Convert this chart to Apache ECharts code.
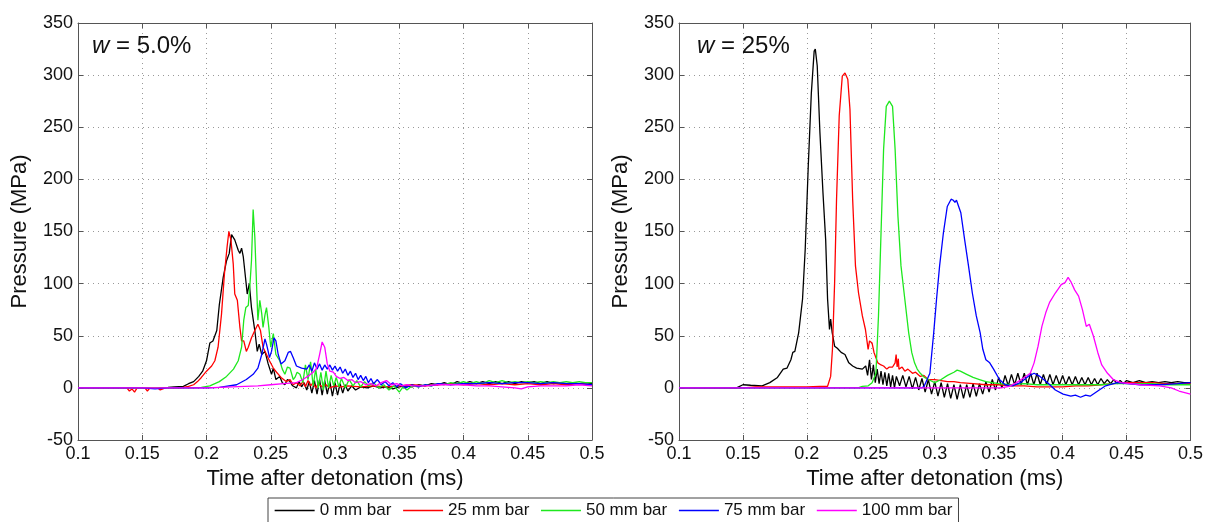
<!DOCTYPE html>
<html>
<head>
<meta charset="utf-8">
<script src="https://cdn.jsdelivr.net/npm/echarts@6/dist/echarts.min.js"></script>
<style>
html,body{margin:0;padding:0;background:#fff;}
#chart{width:1206px;height:522px;}
</style>
</head>
<body>
<div id="chart"></div>
<script>
// ---------- data ----------
const seriesNames = ['0 mm bar', '25 mm bar', '50 mm bar', '75 mm bar', '100 mm bar'];
const panelLabels = ['5.0%', '25%'];
const xTicks = {min: 0.1, max: 0.5, interval: 0.05};
const yTicks = {min: -50, max: 350, interval: 50};

// w = 5.0 %  [time (ms), pressure (MPa)]
const w5_bar0 = [[0.1,0],[0.15,0],[0.17,0.5],[0.175,1],[0.182,1.5],[0.186,4],[0.19,6],[0.194,11],[0.197,16],[0.2,26],[0.2026,43],[0.205,45],[0.206,44],[0.208,55],[0.21,80],[0.213,106],[0.2156,122],[0.2177,129],[0.2195,147],[0.222,142],[0.2247,132],[0.226,129],[0.2273,134],[0.2286,126],[0.2306,103],[0.2317,90],[0.2333,100],[0.235,77],[0.2376,55],[0.2395,35],[0.241,42],[0.243,32],[0.2455,35],[0.248,23],[0.2506,13],[0.252,19],[0.254,8],[0.257,11],[0.259,5],[0.261,3],[0.263,8],[0.265,6],[0.267,2],[0.27,0],[0.272,6],[0.274,1],[0.276,5],[0.278,-2],[0.28,6],[0.282,-5],[0.284,7],[0.286,-6],[0.288,8],[0.29,-7],[0.292,7],[0.294,-6],[0.296,6],[0.298,-8],[0.3,5],[0.302,-7],[0.304,4],[0.306,-5],[0.308,3],[0.31,-3],[0.313,2],[0.316,-2],[0.32,1],[0.325,0],[0.33,2],[0.335,0],[0.34,1],[0.345,-1],[0.35,1],[0.355,2],[0.36,1],[0.365,3],[0.37,2],[0.375,4],[0.38,3],[0.385,5],[0.39,3],[0.395,6],[0.4,4],[0.405,6],[0.41,4],[0.415,6],[0.42,4],[0.425,6],[0.43,4],[0.435,6],[0.44,4],[0.445,6],[0.45,5],[0.455,6],[0.46,4],[0.465,6],[0.47,4],[0.475,5],[0.48,4],[0.485,5],[0.49,4],[0.495,5],[0.5,4]];
const w5_bar25 = [[0.1,0],[0.138,0],[0.14,-3],[0.142,-1],[0.144,-4],[0.146,0],[0.152,0],[0.154,-3],[0.156,0],[0.162,0],[0.164,-2],[0.166,-1],[0.168,0],[0.18,0],[0.182,0.5],[0.186,1.5],[0.19,3],[0.193,6],[0.196,10],[0.2,16],[0.204,21],[0.2065,26],[0.209,39],[0.2117,71],[0.214,110],[0.216,135],[0.2174,150],[0.219,142],[0.2208,119],[0.222,90],[0.224,84],[0.226,58],[0.2273,45],[0.229,45],[0.231,35],[0.2325,39],[0.235,48],[0.2376,55],[0.24,61],[0.242,55],[0.244,39],[0.2467,32],[0.249,26],[0.252,19],[0.2545,15],[0.258,10],[0.262,6],[0.265,8],[0.2675,3],[0.27,5],[0.2727,2],[0.275,6],[0.277,1],[0.279,7],[0.281,2],[0.283,5],[0.285,0],[0.287,4],[0.29,1],[0.293,3],[0.296,0],[0.3,2],[0.305,1],[0.31,2],[0.32,1],[0.33,2],[0.34,1],[0.35,2],[0.36,3],[0.37,2],[0.38,3],[0.39,4],[0.4,3],[0.41,4],[0.42,3],[0.43,4],[0.44,3],[0.45,4],[0.46,3],[0.47,4],[0.48,3],[0.49,4],[0.5,3]];
const w5_bar50 = [[0.1,0],[0.19,0],[0.196,0.5],[0.2026,2],[0.21,6],[0.2156,11],[0.221,18],[0.2247,26],[0.2273,39],[0.229,65],[0.2306,77],[0.2325,79],[0.2337,97],[0.235,122],[0.2363,171],[0.2376,145],[0.239,97],[0.24,65],[0.2415,84],[0.243,71],[0.244,58],[0.2455,70],[0.2467,77],[0.2485,58],[0.25,39],[0.252,52],[0.254,32],[0.257,26],[0.259,18],[0.261,13],[0.263,20],[0.265,19],[0.2675,8],[0.2688,10],[0.2705,15],[0.2727,13],[0.275,5],[0.277,22],[0.279,8],[0.281,25],[0.283,2],[0.285,18],[0.287,0],[0.289,15],[0.291,-2],[0.293,16],[0.295,0],[0.297,12],[0.299,2],[0.301,10],[0.303,1],[0.305,9],[0.308,0],[0.311,8],[0.314,2],[0.317,7],[0.32,1],[0.323,6],[0.326,2],[0.33,5],[0.334,0],[0.338,3],[0.342,-2],[0.346,2],[0.35,-4],[0.353,1],[0.356,-2],[0.36,2],[0.365,1],[0.37,3],[0.375,2],[0.38,4],[0.385,3],[0.39,5],[0.395,4],[0.4,6],[0.405,4],[0.41,6],[0.415,4],[0.42,7],[0.425,5],[0.43,7],[0.435,5],[0.44,6],[0.445,5],[0.45,6],[0.455,5],[0.46,6],[0.465,5],[0.47,6],[0.475,5],[0.48,6],[0.485,5],[0.49,6],[0.495,5],[0.5,5]];
const w5_bar75 = [[0.1,0],[0.15,0],[0.16,-1],[0.17,0],[0.2,0],[0.21,0.5],[0.2234,3],[0.231,8],[0.2363,13],[0.24,19],[0.243,32],[0.2455,47],[0.2467,42],[0.248,35],[0.249,29],[0.2506,35],[0.2525,48],[0.254,45],[0.2558,32],[0.258,23],[0.261,26],[0.2636,34],[0.2654,35],[0.2675,29],[0.27,21],[0.274,19],[0.278,18],[0.28,22],[0.282,16],[0.284,24],[0.286,18],[0.288,23],[0.29,17],[0.292,22],[0.294,18],[0.296,22],[0.298,17],[0.3,21],[0.302,16],[0.304,20],[0.306,14],[0.308,18],[0.31,12],[0.312,16],[0.314,10],[0.316,14],[0.318,8],[0.32,12],[0.322,7],[0.324,11],[0.326,5],[0.328,9],[0.33,4],[0.333,8],[0.336,3],[0.339,6],[0.342,2],[0.345,5],[0.348,1],[0.351,4],[0.355,0],[0.36,3],[0.365,1],[0.37,3],[0.375,2],[0.38,4],[0.39,3],[0.4,4],[0.41,4],[0.42,5],[0.43,4],[0.44,5],[0.45,5],[0.46,4],[0.47,5],[0.48,4],[0.49,4],[0.5,3]];
const w5_bar100 = [[0.1,0],[0.2,0],[0.21,0.5],[0.22,1],[0.23,1.5],[0.24,2],[0.25,3],[0.26,4],[0.27,5],[0.275,8],[0.28,12],[0.283,15],[0.2857,19],[0.288,32],[0.29,44],[0.292,39],[0.294,23],[0.296,16],[0.2987,15],[0.301,11],[0.304,9],[0.307,10],[0.31,7],[0.313,8],[0.316,5],[0.32,6],[0.324,3],[0.328,4],[0.332,2],[0.336,5],[0.34,7],[0.344,3],[0.348,4],[0.352,2],[0.356,3],[0.36,2],[0.37,2],[0.38,3],[0.39,3],[0.4,3],[0.41,2],[0.42,2],[0.43,1],[0.44,0],[0.445,-1],[0.45,1],[0.46,2],[0.47,2],[0.48,2],[0.49,3],[0.5,2]];

// w = 25 %
const w25_bar0 = [[0.1,0],[0.145,0],[0.15,3],[0.156,2.5],[0.165,2],[0.171,5],[0.177,10],[0.1815,18],[0.1845,19],[0.1875,27],[0.189,34],[0.1906,35],[0.1936,53],[0.1966,85],[0.1987,133],[0.2011,213],[0.2035,283],[0.2057,323],[0.2066,325],[0.2081,309],[0.2102,245],[0.2126,187],[0.2147,142],[0.2162,85],[0.2177,56],[0.2186,66],[0.2198,53],[0.2217,40],[0.2238,38],[0.2268,34],[0.2298,32],[0.2328,24],[0.2358,21],[0.2389,19],[0.2434,18],[0.246,21],[0.2475,12],[0.249,27],[0.2505,8],[0.252,22],[0.2535,5],[0.255,18],[0.2565,4],[0.258,16],[0.2595,3],[0.261,15],[0.2625,2],[0.264,14],[0.2655,1],[0.267,12],[0.2685,0],[0.27,11],[0.2725,2],[0.275,12],[0.2775,1],[0.28,11],[0.2825,-1],[0.285,10],[0.2875,-2],[0.29,9],[0.2925,-4],[0.295,8],[0.2975,-6],[0.3,6],[0.3025,-8],[0.305,5],[0.3075,-9],[0.31,4],[0.3125,-10],[0.315,3],[0.3175,-11],[0.32,3],[0.3225,-10],[0.325,3],[0.3275,-9],[0.33,4],[0.3325,-8],[0.335,4],[0.3375,-6],[0.34,6],[0.3425,-4],[0.345,8],[0.3475,-2],[0.35,10],[0.3525,0],[0.355,12],[0.3575,2],[0.36,13],[0.3625,3],[0.365,14],[0.3675,3],[0.37,14],[0.3725,3],[0.375,14],[0.3775,3],[0.38,14],[0.3825,3],[0.385,13],[0.3875,3],[0.39,13],[0.3925,3],[0.395,12],[0.3975,3],[0.4,12],[0.4025,3],[0.405,11],[0.4075,3],[0.41,11],[0.4125,3],[0.415,10],[0.4175,3],[0.42,10],[0.4225,3],[0.425,9],[0.4275,3],[0.43,9],[0.4325,4],[0.435,8],[0.4375,4],[0.44,8],[0.4425,4],[0.445,7],[0.4475,4],[0.45,7],[0.455,5],[0.46,7],[0.465,5],[0.47,6],[0.475,5],[0.48,6],[0.485,5],[0.49,6],[0.495,5],[0.5,5]];
const w25_bar25 = [[0.1,0],[0.15,0],[0.16,1],[0.2,1],[0.21,1.5],[0.2162,1.5],[0.2186,11],[0.22,37],[0.2217,101],[0.2232,181],[0.2253,261],[0.2277,299],[0.2298,302],[0.232,296],[0.2337,267],[0.2358,181],[0.238,117],[0.2404,91],[0.2434,69],[0.2458,56],[0.2479,37],[0.249,45],[0.251,43],[0.2525,34],[0.2555,24],[0.258,22],[0.26,21],[0.2625,18],[0.2645,20],[0.267,20],[0.269,24],[0.2698,32],[0.2706,20],[0.2715,28],[0.272,18],[0.2745,20],[0.2766,16],[0.279,18],[0.2826,14],[0.285,15],[0.2887,11],[0.2915,12],[0.2947,8],[0.3,8],[0.305,7],[0.31,6],[0.315,6],[0.32,5],[0.33,4],[0.34,3],[0.35,3],[0.36,2],[0.37,2],[0.38,1],[0.39,1],[0.4,1],[0.41,2],[0.42,2],[0.43,3],[0.44,4],[0.45,5],[0.46,5],[0.47,5],[0.48,4],[0.49,4],[0.5,4]];
const w25_bar50 = [[0.1,0],[0.24,0],[0.2434,1.5],[0.248,2],[0.251,5],[0.254,14],[0.256,69],[0.258,149],[0.26,229],[0.2621,270],[0.2645,275],[0.267,270],[0.269,229],[0.2712,165],[0.2736,117],[0.2766,85],[0.2796,53],[0.282,34],[0.2842,24],[0.2863,18],[0.2887,14],[0.292,10],[0.295,8],[0.3,5],[0.305,8],[0.31,12],[0.315,15],[0.3175,17],[0.32,16],[0.325,13],[0.33,10],[0.335,8],[0.34,6],[0.345,5],[0.35,4],[0.36,3],[0.37,4],[0.38,3],[0.39,3],[0.4,3],[0.41,3],[0.42,3],[0.43,3],[0.44,4],[0.45,4],[0.46,4],[0.47,4],[0.48,3],[0.49,3],[0.5,3]];
const w25_bar75 = [[0.1,0],[0.29,0],[0.2917,1.5],[0.2962,14],[0.2992,53],[0.3014,85],[0.3038,117],[0.3068,149],[0.3098,174],[0.3128,181],[0.3145,180],[0.3158,178],[0.317,180],[0.3183,179],[0.3204,168],[0.3234,142],[0.3264,117],[0.3294,91],[0.3325,69],[0.3355,53],[0.3376,37],[0.34,27],[0.343,24],[0.346,18],[0.3506,8],[0.355,3],[0.361,2],[0.367,5],[0.373,11],[0.3777,14],[0.3823,11],[0.3883,5],[0.3943,-2],[0.4004,-6],[0.4064,-8],[0.41,-7],[0.414,-9],[0.418,-7],[0.4215,-8],[0.4275,-3],[0.4336,2],[0.4426,5],[0.4608,3],[0.476,3],[0.49,4],[0.5,5]];
const w25_bar100 = [[0.1,0],[0.352,0],[0.358,1.5],[0.364,5],[0.37,10],[0.3747,14],[0.3777,24],[0.3808,40],[0.3838,59],[0.3868,72],[0.3898,82],[0.3943,91],[0.3989,99],[0.4019,101],[0.4043,106],[0.4064,102],[0.4094,94],[0.4125,88],[0.4155,75],[0.4185,59],[0.4209,61],[0.424,50],[0.4275,34],[0.4306,22],[0.4351,14],[0.4396,8],[0.4457,5],[0.4608,3],[0.476,2],[0.4849,0],[0.491,-3],[0.5,-6]];

// ---------- chart ----------
const colors = ['#000000', '#ff0000', '#1ee81e', '#0000ff', '#ff00ff'];
const panels = [
  [w5_bar0, w5_bar25, w5_bar50, w5_bar75, w5_bar100],
  [w25_bar0, w25_bar25, w25_bar50, w25_bar75, w25_bar100]
];
const FONT = 'Liberation Sans, Arial, Helvetica, sans-serif';
const frame = '#555';

const grids = [
  {left: 78, top: 23, width: 514, height: 417},
  {left: 679, top: 23, width: 512, height: 417}
];

const xAxes = [], yAxes = [], series = [], titles = [];
grids.forEach((g, i) => {
  xAxes.push({
    type: 'value', gridIndex: i, min: xTicks.min, max: xTicks.max, interval: xTicks.interval,
    name: 'Time after detonation (ms)', nameLocation: 'middle', nameGap: 27,
    nameTextStyle: {fontFamily: FONT, fontSize: 22, color: '#111'},
    axisLine: {show: true, onZero: false, lineStyle: {color: frame, width: 1}},
    axisTick: {show: true, inside: true, length: 5, lineStyle: {color: frame}},
    axisLabel: {fontFamily: FONT, fontSize: 18, color: '#111', margin: 5},
    splitLine: {show: true, lineStyle: {color: '#999', type: [1, 4], width: 1}}
  });
  yAxes.push({
    type: 'value', gridIndex: i, min: yTicks.min, max: yTicks.max, interval: yTicks.interval,
    name: 'Pressure (MPa)', nameLocation: 'middle', nameGap: 47, nameRotate: 90,
    nameTextStyle: {fontFamily: FONT, fontSize: 22, color: '#111'},
    axisLine: {show: true, onZero: false, lineStyle: {color: frame, width: 1}},
    axisTick: {show: true, inside: true, length: 5, lineStyle: {color: frame}},
    axisLabel: {fontFamily: FONT, fontSize: 18, color: '#111', margin: 5},
    splitLine: {show: true, lineStyle: {color: '#999', type: [1, 4], width: 1}}
  });
  titles.push({
    text: '{i|w} = ' + panelLabels[i],
    left: i === 0 ? 92 : 697, top: 34, padding: 0,
    textStyle: {fontFamily: FONT, fontSize: 24, fontWeight: 'normal', color: '#111',
      rich: {i: {fontFamily: FONT, fontSize: 24, fontStyle: 'italic', color: '#111'}}}
  });
});
grids.forEach((g, i) => {
  xAxes.push({
    type: 'value', gridIndex: i, position: 'top', min: xTicks.min, max: xTicks.max, interval: xTicks.interval,
    axisLine: {show: true, onZero: false, lineStyle: {color: frame, width: 1}},
    axisTick: {show: true, inside: true, length: 5, lineStyle: {color: frame}},
    axisLabel: {show: false}, splitLine: {show: false}
  });
  yAxes.push({
    type: 'value', gridIndex: i, position: 'right', min: yTicks.min, max: yTicks.max, interval: yTicks.interval,
    axisLine: {show: true, onZero: false, lineStyle: {color: frame, width: 1}},
    axisTick: {show: true, inside: true, length: 5, lineStyle: {color: frame}},
    axisLabel: {show: false}, splitLine: {show: false}
  });
});

panels.forEach((list, i) => {
  list.forEach((data, k) => {
    series.push({
      type: 'line', name: seriesNames[k], xAxisIndex: i, yAxisIndex: i,
      data: data, showSymbol: false, symbol: 'none',
      lineStyle: {color: colors[k], width: 1.3}, itemStyle: {color: colors[k]},
      emphasis: {disabled: true}
    });
  });
});

const chart = echarts.init(document.getElementById('chart'), null, {renderer: 'canvas'});
chart.setOption({
  animation: false,
  backgroundColor: '#fff',
  title: titles,
  grid: grids,
  xAxis: xAxes,
  yAxis: yAxes,
  legend: {
    data: seriesNames,
    left: 268, top: 498,
    orient: 'horizontal',
    itemWidth: 40, itemHeight: 14, itemGap: 11,
    itemStyle: {opacity: 0},
    lineStyle: {width: 1.3},
    textStyle: {fontFamily: FONT, fontSize: 17, color: '#111'},
    backgroundColor: '#fff',
    borderColor: '#444', borderWidth: 1,
    padding: [4, 6, 14, 6]
  },
  series: series
});
</script>
</body>
</html>
